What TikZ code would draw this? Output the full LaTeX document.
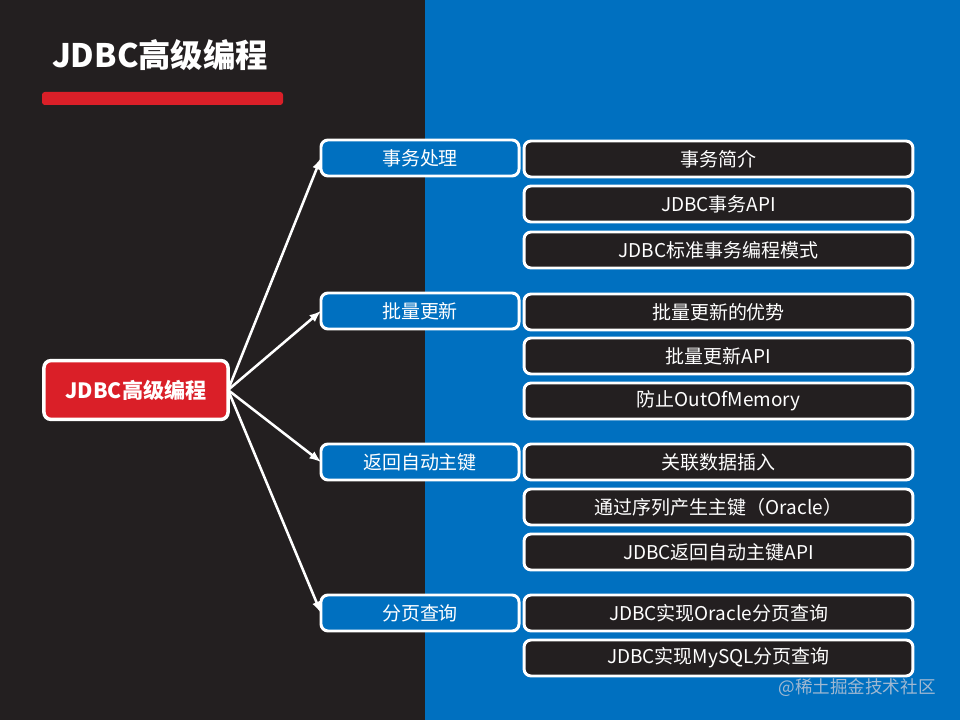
\documentclass[tikz,border=0pt]{standalone}
\usepackage{fontspec}
\setmainfont{Noto Sans CJK SC}
\definecolor{darkbg}{HTML}{231F20}
\definecolor{bluebg}{HTML}{0070C0}
\definecolor{redbox}{HTML}{DA1F28}
\definecolor{mark}{HTML}{9FB8D2}
\begin{document}
\begin{tikzpicture}[x=0.025cm, y=-0.025cm]
\tikzset{ >=latex, inner sep=0pt, outer sep=0pt,
  box/.style={draw=white, line width=2.1pt, rounded corners=5pt, text=white,
    minimum height=0.9cm, font=\fontsize{13.5}{15}\selectfont},
  topic/.style={box, fill=bluebg, minimum width=4.95cm},
  item/.style={box, fill=darkbg, minimum width=9.72cm},
  link/.style={->, white, line width=1.8pt},
}

\fill [darkbg] (0,0)   rectangle (425,720);
\fill [bluebg] (425,0) rectangle (960,720);

\node [anchor=west, text=white, font=\fontsize{23}{25}\selectfont\bfseries] (TT) at (52,55) {JDBC高级编程};
\fill [redbox, rounded corners=2pt] (42,92) rectangle (283,105);

\node [box, fill=redbox, line width=2.5pt, minimum width=4.6cm, minimum height=1.47cm,
       font=\fontsize{15}{17}\selectfont\bfseries] (J) at (136,390) {JDBC高级编程};

\node [topic] (A1) at (420,158) {事务处理};
\node [topic] (A2) at (420,311) {批量更新};
\node [topic] (A3) at (420,462) {返回自动主键};
\node [topic] (A4) at (420,613) {分页查询};

\node [item] (B1)  at (718.5,159) {事务简介};
\node [item] (B2)  at (718.5,204) {JDBC事务API};
\node [item] (B3)  at (718.5,250) {JDBC标准事务编程模式};

\node [item] (B4)  at (718.5,312) {批量更新的优势};
\node [item] (B5)  at (718.5,356) {批量更新API};
\node [item] (B6)  at (718.5,401) {防止OutOfMemory};

\node [item] (B7)  at (718.5,462) {关联数据插入};
\node [item] (B8)  at (718.5,507) {通过序列产生主键（Oracle）};
\node [item] (B9)  at (718.5,552) {JDBC返回自动主键API};

\node [item] (B10) at (718.5,613) {JDBC实现Oracle分页查询};
\node [item] (B11) at (718.5,658) {JDBC实现MySQL分页查询};

\draw [link] (J.east) -- (A1.west);
\draw [link] (J.east) -- (A2.west);
\draw [link] (J.east) -- (A3.west);
\draw [link] (J.east) -- (A4.west);

\node [text=mark, font=\fontsize{12.5}{14}\selectfont] (WM) at (857,688) {@稀土掘金技术社区};

\end{tikzpicture}
\end{document}
